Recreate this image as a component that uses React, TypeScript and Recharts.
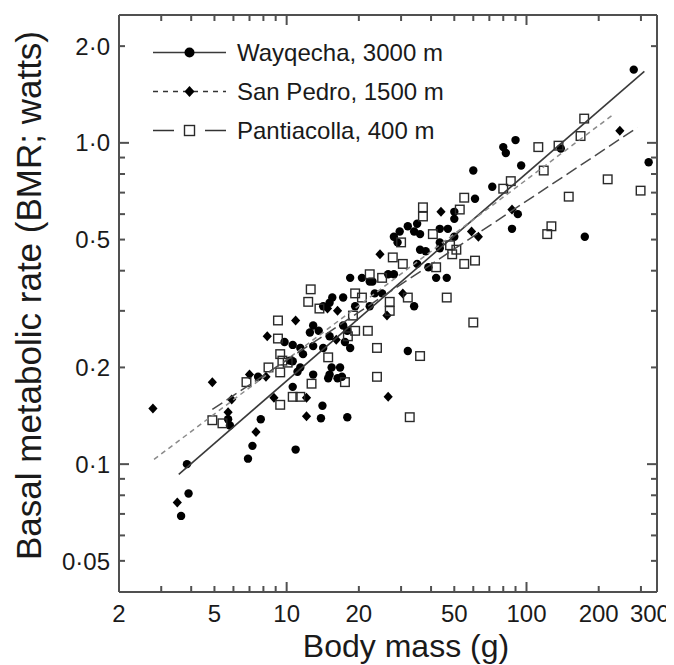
import React from 'react';
import { ScatterChart, Scatter, XAxis, YAxis, Legend, Label } from 'recharts';

// ---------- data ----------
const wayqechaMass = [280, 80, 82, 90, 95, 323, 72, 92, 87, 175, 139, 60, 61, 50, 50, 32, 35, 34, 36, 43.5, 47, 50, 28, 29, 43.5, 43.5, 36, 38, 18.4, 20.6, 22.2, 22.8, 26.5, 28, 35, 39, 42, 34, 23.3, 25, 19.3, 22.2, 17.2, 17.9, 17.5, 18.4, 32, 17, 17.9, 15.5, 17.2, 15.1, 14.2, 12.9, 9.8, 10.6, 11.4, 10.3, 11.7, 11.1, 12.9, 15.1, 5.7, 5.8, 7.8, 7.2, 6.9, 3.84, 3.9, 3.63, 10.9, 12.9, 14.2, 15.1, 12.5, 13.6, 10.6, 11.4, 15.4, 16.7, 16.3, 7.6, 14.9, 10.6, 14.1, 13.9, 29.6, 46.5];
const wayqechaBMR = [1.69, 0.97, 0.93, 1.02, 0.85, 0.87, 0.73, 0.6, 0.54, 0.51, 0.96, 0.82, 0.67, 0.61, 0.58, 0.55, 0.56, 0.53, 0.52, 0.54, 0.54, 0.51, 0.51, 0.49, 0.49, 0.47, 0.465, 0.46, 0.38, 0.38, 0.37, 0.37, 0.39, 0.39, 0.42, 0.41, 0.38, 0.31, 0.34, 0.34, 0.31, 0.31, 0.27, 0.26, 0.24, 0.23, 0.225, 0.187, 0.14, 0.33, 0.33, 0.318, 0.31, 0.27, 0.24, 0.235, 0.23, 0.21, 0.22, 0.194, 0.19, 0.19, 0.138, 0.132, 0.138, 0.114, 0.104, 0.1, 0.081, 0.069, 0.111, 0.233, 0.23, 0.25, 0.257, 0.26, 0.209, 0.2, 0.2, 0.2, 0.185, 0.187, 0.185, 0.174, 0.152, 0.139, 0.53, 0.38];

const sanPedroMass = [245, 87, 59, 63, 44, 30.5, 26.5, 24.5, 26.2, 10.9, 8.3, 7.0, 4.9, 2.77, 5.9, 7.45, 3.5, 12.1, 12.1, 8.85, 5.7, 8.2, 14.8, 16.3, 16.1];
const sanPedroBMR = [1.09, 0.62, 0.53, 0.51, 0.61, 0.34, 0.162, 0.45, 0.29, 0.28, 0.25, 0.19, 0.18, 0.149, 0.159, 0.126, 0.076, 0.161, 0.141, 0.161, 0.145, 0.187, 0.305, 0.3, 0.244];

const pantiacollaMass = [174, 168, 112, 136, 118, 218, 299, 86, 80, 150, 127, 122, 55, 52.7, 37, 37, 40.7, 30, 48, 51, 49, 27.7, 30.5, 55, 61, 42, 46.5, 22.2, 25, 32, 19.3, 20.6, 26.9, 26.9, 18.9, 19.3, 21.8, 18, 23.8, 36, 23.8, 17.5, 32.6, 12.6, 12.3, 13.7, 9.2, 9.2, 9.4, 9.6, 14.9, 8.4, 9.4, 6.8, 9.4, 4.9, 5.4, 12.7, 10.6, 11.4, 10.1, 60];
const pantiacollaBMR = [1.19, 1.05, 0.97, 0.98, 0.82, 0.77, 0.71, 0.76, 0.72, 0.68, 0.55, 0.52, 0.675, 0.62, 0.63, 0.59, 0.52, 0.49, 0.48, 0.465, 0.45, 0.44, 0.42, 0.42, 0.43, 0.41, 0.33, 0.39, 0.38, 0.33, 0.34, 0.33, 0.32, 0.3, 0.29, 0.26, 0.26, 0.25, 0.23, 0.217, 0.187, 0.18, 0.14, 0.35, 0.32, 0.305, 0.28, 0.246, 0.22, 0.21, 0.215, 0.2, 0.193, 0.18, 0.153, 0.137, 0.134, 0.178, 0.162, 0.162, 0.207, 0.276];

// fitted regression lines (end points)
const wayqechaFitMass = [3.55, 310];
const wayqechaFitBMR = [0.093, 1.67];
const sanPedroFitMass = [2.8, 233];
const sanPedroFitBMR = [0.1035, 1.234];
const pantiacollaFitMass = [4.9, 290];
const pantiacollaFitBMR = [0.148, 1.116];

const seriesNames = ['Wayqecha, 3000 m', 'San Pedro, 1500 m', 'Pantiacolla, 400 m'];

const xDomain = [2, 350];
const yDomain = [0.04, 2.5];
const xTicks = [2, 3, 4, 5, 6, 7, 8, 9, 10, 20, 30, 40, 50, 60, 70, 80, 90, 100, 200, 300];
const xTickLabels = [2, 5, 10, 20, 50, 100, 200, 300];
const yTicks = [0.05, 0.06, 0.07, 0.08, 0.09, 0.1, 0.2, 0.3, 0.4, 0.5, 0.6, 0.7, 0.8, 0.9, 1, 2];
const yTickLabels = [0.05, 0.1, 0.2, 0.5, 1, 2];

const xTitle = 'Body mass (g)';
const yTitle = 'Basal metabolic rate (BMR; watts)';

// ---------- helpers ----------
const zip = (xs: number[], ys: number[]) => xs.map((x, i) => ({ x, y: ys[i] }));
const isDecade = (v: number) => Math.abs(Math.log10(v) - Math.round(Math.log10(v))) < 1e-9;
const fmtY = (v: number) => (Number.isInteger(v) ? v.toFixed(1) : String(v)).replace('.', '\u00B7');

const FONT = '"Liberation Sans", Arial, Helvetica, sans-serif';
const AXIS = '#505050';
const TXT = '#1a1a1a';
const MINOR = 6;
const MAJOR = 10;
const X_MARGIN = 13;
const Y_MARGIN = 9;

const BottomLabel = (p: any) => {
  const v = p.payload.value;
  if (!xTickLabels.includes(v)) return <g />;
  const last = v === xTickLabels[xTickLabels.length - 1];
  return (
    <text x={p.x} y={p.y} dx={last ? 9 : 0} dy="0.71em" textAnchor="middle" fontFamily={FONT} fontSize={24} fill={TXT}>
      {v}
    </text>
  );
};

const LeftLabel = (p: any) => {
  const v = p.payload.value;
  if (!yTickLabels.includes(v)) return <g />;
  return (
    <text x={p.x} y={p.y} dy="0.36em" textAnchor="end" fontFamily={FONT} fontSize={24} fill={TXT}>
      {fmtY(v)}
    </text>
  );
};

// inward frame tick marks, placed through the chart scales
const TickShape = (p: any) => {
  const d = p.payload || p;
  const cx = p.cx;
  const cy = p.cy;
  if (typeof cx !== 'number' || typeof cy !== 'number' || isNaN(cx) || isNaN(cy)) return <g />;
  const len = isDecade(d.v) ? MAJOR : MINOR;
  let x2 = cx;
  let y2 = cy;
  if (d.side === 'b') y2 = cy - len;
  else if (d.side === 't') y2 = cy + len;
  else if (d.side === 'l') x2 = cx + len;
  else x2 = cx - len;
  return <line x1={cx} y1={cy} x2={x2} y2={y2} stroke={AXIS} strokeWidth={2} />;
};

const Dot = (p: any) => <circle cx={p.cx} cy={p.cy} r={4.2} fill="#000" />;
const Diamond = (p: any) => (
  <path d={`M${p.cx} ${p.cy - 5}L${p.cx + 4.6} ${p.cy}L${p.cx} ${p.cy + 5}L${p.cx - 4.6} ${p.cy}Z`} fill="#000" />
);
const Square = (p: any) => (
  <rect x={p.cx - 4.3} y={p.cy - 4.3} width={8.6} height={8.6} fill="none" stroke="#2a2a2a" strokeWidth={1.4} />
);
const NoShape = () => <g />;

const lineStyles = [
  { stroke: '#3a3a3a', strokeWidth: 1.6, strokeDasharray: undefined as any },
  { stroke: '#8a8a8a', strokeWidth: 1.5, strokeDasharray: '5 4' },
  { stroke: '#4a4a4a', strokeWidth: 1.5, strokeDasharray: '12 5' },
];

const LegendBox = () => {
  const W = 73;
  const H = 39;
  const c = W / 2;
  const m = H / 2;
  const markers = [
    <circle cx={c} cy={m} r={5} fill="#000" />,
    <path d={`M${c} ${m - 5.5}L${c + 5} ${m}L${c} ${m + 5.5}L${c - 5} ${m}Z`} fill="#000" />,
    <rect x={c - 5} y={m - 5} width={10} height={10} fill="#fff" stroke="#2a2a2a" strokeWidth={1.4} />,
  ];
  const lines = [
    <line x1={0} x2={W} y1={m} y2={m} stroke={lineStyles[0].stroke} strokeWidth={1.6} />,
    <line x1={0} x2={W} y1={m} y2={m} stroke="#333" strokeWidth={1.5} strokeDasharray="5 5" />,
    <g>
      <line x1={0} x2={21} y1={m} y2={m} stroke="#333" strokeWidth={1.5} />
      <line x1={W - 21} x2={W} y1={m} y2={m} stroke="#333" strokeWidth={1.5} />
    </g>,
  ];
  return (
    <div>
      {seriesNames.map((name, i) => (
        <div key={name} style={{ display: 'flex', alignItems: 'center', height: H }}>
          <svg width={W} height={H} style={{ display: 'block' }}>
            {lines[i]}
            {markers[i]}
          </svg>
          <span style={{ marginLeft: 11, fontFamily: FONT, fontSize: 24, color: TXT, whiteSpace: 'nowrap' }}>{name}</span>
        </div>
      ))}
    </div>
  );
};

export default function App() {
  const way = zip(wayqechaMass, wayqechaBMR);
  const sp = zip(sanPedroMass, sanPedroBMR);
  const pan = zip(pantiacollaMass, pantiacollaBMR);
  const wayFit = zip(wayqechaFitMass, wayqechaFitBMR);
  const spFit = zip(sanPedroFitMass, sanPedroFitBMR);
  const panFit = zip(pantiacollaFitMass, pantiacollaFitBMR);

  const frameTicks = [
    ...xTicks.map((v) => ({ x: v, y: yDomain[0], v, side: 'b' })),
    ...xTicks.map((v) => ({ x: v, y: yDomain[1], v, side: 't' })),
    ...yTicks.map((v) => ({ x: xDomain[0], y: v, v, side: 'l' })),
    ...yTicks.map((v) => ({ x: xDomain[1], y: v, v, side: 'r' })),
  ];

  return (
    <div style={{ width: 666, height: 657, background: '#fff' }}>
      <ScatterChart width={666} height={657} margin={{ top: 6, right: 16, bottom: 0, left: 0 }}>
        <XAxis
          type="number"
          dataKey="x"
          scale="log"
          domain={xDomain}
          allowDataOverflow
          ticks={xTicks}
          interval={0}
          tickLine={false}
          tickSize={0}
          tickMargin={X_MARGIN}
          tick={BottomLabel}
          axisLine={{ stroke: AXIS, strokeWidth: 2 }}
          height={73}
        >
          <Label
            content={(props: any) => {
              const vb = props.viewBox;
              return (
                <text x={vb.x + vb.width / 2 + 18} y={649} textAnchor="middle" fontFamily={FONT} fontSize={32} fill={TXT}>
                  {xTitle}
                </text>
              );
            }}
          />
        </XAxis>
        <XAxis
          xAxisId="top"
          orientation="top"
          type="number"
          dataKey="x"
          scale="log"
          domain={xDomain}
          allowDataOverflow
          ticks={xTicks}
          tickLine={false}
          tick={false}
          axisLine={{ stroke: AXIS, strokeWidth: 2 }}
          height={1}
        />
        <YAxis
          type="number"
          dataKey="y"
          scale="log"
          domain={yDomain}
          allowDataOverflow
          ticks={yTicks}
          interval={0}
          tickLine={false}
          tickSize={0}
          tickMargin={Y_MARGIN}
          tick={LeftLabel}
          axisLine={{ stroke: AXIS, strokeWidth: 2 }}
          width={111}
        >
          <Label
            content={(props: any) => {
              const vb = props.viewBox;
              const cx = vb.x + 20;
              const cy = vb.y + vb.height / 2 - 8;
              return (
                <text
                  x={cx}
                  y={cy}
                  transform={`rotate(-90 ${cx} ${cy})`}
                  textAnchor="middle"
                  dominantBaseline="central"
                  fontFamily={FONT}
                  fontSize={35}
                  fill={TXT}
                >
                  {yTitle}
                </text>
              );
            }}
          />
        </YAxis>
        <YAxis
          yAxisId="right"
          orientation="right"
          type="number"
          dataKey="y"
          scale="log"
          domain={yDomain}
          allowDataOverflow
          ticks={yTicks}
          tickLine={false}
          tick={false}
          axisLine={{ stroke: AXIS, strokeWidth: 2 }}
          width={1}
        />
        <Legend
          layout="vertical"
          align="center"
          verticalAlign="middle"
          wrapperStyle={{ left: 145, top: 25, width: 330 }}
          content={() => <LegendBox />}
        />
        <Scatter data={frameTicks} shape={TickShape} fill={AXIS} isAnimationActive={false} legendType="none" />
        <Scatter name={seriesNames[0]} data={way} shape={Dot} isAnimationActive={false} />
        <Scatter name={seriesNames[1]} data={sp} shape={Diamond} isAnimationActive={false} />
        <Scatter name={seriesNames[2]} data={pan} shape={Square} isAnimationActive={false} />
        <Scatter data={wayFit} shape={NoShape} fill={lineStyles[0].stroke} line={lineStyles[0]} isAnimationActive={false} legendType="none" />
        <Scatter data={spFit} shape={NoShape} fill={lineStyles[1].stroke} line={lineStyles[1]} isAnimationActive={false} legendType="none" />
        <Scatter data={panFit} shape={NoShape} fill={lineStyles[2].stroke} line={lineStyles[2]} isAnimationActive={false} legendType="none" />
      </ScatterChart>
    </div>
  );
}
